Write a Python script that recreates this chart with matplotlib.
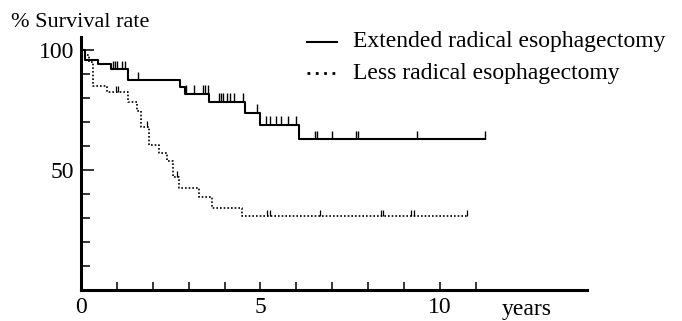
import matplotlib.pyplot as plt
import numpy as np

plt.rcParams['font.family'] = ['Liberation Serif', 'DejaVu Serif']

# Kaplan-Meier steps (years, % survival)
ext_time = [0, 0.10, 0.48, 0.83, 1.32, 2.75, 2.90, 3.58, 4.58, 5.00, 6.07, 11.27]
ext_surv = [100, 96.1, 94.2, 92.1, 87.4, 84.7, 81.9, 78.5, 74.0, 69.0, 62.8, 62.8]
ext_censor = [0.89, 0.95, 1.01, 1.13, 1.23, 1.58, 2.92, 3.16, 3.40, 3.46, 3.54,
              3.84, 3.90, 3.97, 4.07, 4.16, 4.25, 4.51, 4.91, 5.16, 5.28, 5.42,
              5.58, 5.76, 5.98, 6.51, 6.58, 7.00, 7.67, 7.73, 9.35, 11.27]

less_time = [0, 0.10, 0.23, 0.34, 0.72, 1.32, 1.57, 1.67, 1.90, 2.16, 2.41,
             2.56, 2.74, 3.30, 3.65, 4.49, 10.77]
less_surv = [100, 98.0, 95.1, 85.0, 82.4, 78.5, 74.5, 68.1, 60.5, 57.2, 54.0,
             47.0, 42.6, 38.8, 34.4, 31.0, 31.0]
less_censor = [0.97, 1.04, 1.83, 2.67, 5.19, 5.28, 6.66, 8.35, 8.42, 9.19, 9.27, 10.77]

labels = ["Extended radical esophagectomy", "Less radical esophagectomy"]


def level_at(times, surv, t):
    idx = np.searchsorted(times, t, side='right') - 1
    return np.array(surv)[idx]


fig = plt.figure(figsize=(6.82, 3.21), dpi=100)
ax = fig.add_axes([81 / 682, 31 / 321, 506 / 682, 253 / 321])

ax.step(ext_time, ext_surv, where='post', color='black', lw=1.5)
ax.vlines(ext_censor, level_at(ext_time, ext_surv, ext_censor),
          level_at(ext_time, ext_surv, ext_censor) + 3.5, color='black', lw=1.0)

ax.step(less_time, less_surv, where='post', color='black', lw=1.2,
        linestyle=(0, (1, 1.2)))
ax.vlines(less_censor, level_at(less_time, less_surv, less_censor),
          level_at(less_time, less_surv, less_censor) + 2.5, color='black', lw=0.9)

ax.set_xlim(0, 14.1)
ax.set_ylim(0, 105.5)
for s in ['top', 'right']:
    ax.spines[s].set_visible(False)
for s in ['left', 'bottom']:
    ax.spines[s].set_linewidth(2.2)

ax.set_xticks(range(0, 12))
ax.set_xticklabels(['0', '', '', '', '', '5', '', '', '', '', '10', ''])
ax.set_yticks([50, 100])
ax.set_yticks([10, 20, 30, 40, 60, 70, 80, 90], minor=True)
ax.tick_params(axis='x', direction='in', length=5.8, width=1.1, pad=5, labelsize=17)
ax.tick_params(axis='y', which='major', direction='in', length=9.4, width=1.1, pad=5, labelsize=17)
ax.tick_params(axis='y', which='minor', direction='in', length=6.5, width=1.1)

fig.text(11 / 682, 1 - 27 / 321, "% Survival rate", fontsize=16, va='baseline')
fig.text(502 / 682, 1 - 315 / 321, "years", fontsize=17, va='baseline')

# legend drawn by hand
leg_y = [1 - 42 / 321, 1 - 73 / 321]
fig.add_artist(plt.Line2D([307 / 682, 337 / 682], [leg_y[0], leg_y[0]], color='black', lw=1.5))
fig.add_artist(plt.Line2D([307 / 682, 337 / 682], [leg_y[1], leg_y[1]], color='black', lw=2,
                          linestyle=(0, (1, 2))))
for y, lab in zip(leg_y, labels):
    fig.text(353 / 682, y, lab, fontsize=17, va='center')

fig.savefig("out.png", dpi=100)
